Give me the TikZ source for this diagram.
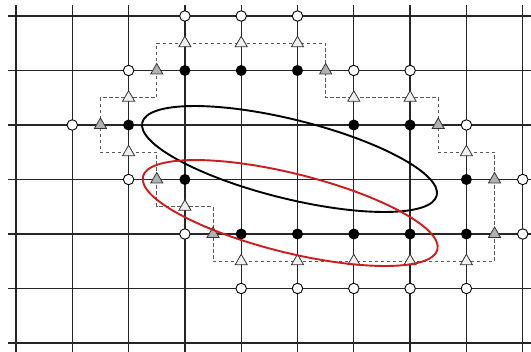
\documentclass[tikz,border=0pt]{standalone}
\usetikzlibrary{shapes.geometric}
\definecolor{ellred}{RGB}{205,28,28}
\begin{document}
\begin{tikzpicture}[x=56.3pt,y=-54.5pt,
  gridline/.style={black!85,line width=1.3pt},
  opendot/.style={circle,draw=black,line width=0.9pt,fill=white,minimum size=10.5pt,inner sep=0pt},
  fulldot/.style={circle,fill=black,minimum size=11pt,inner sep=0pt},
  tri/.style={regular polygon,regular polygon sides=3,draw=black!80,line width=0.8pt,minimum size=14pt,inner sep=0pt},
  vtri/.style={tri,fill=gray!12},
  htri/.style={tri,fill=gray!60},
  boundary/.style={black!65,dash pattern=on 3.5pt off 2.5pt,line width=0.9pt},
  contour/.style={line width=1.9pt}]
\path[use as bounding box] (-0.2842,-0.2936) rectangle (9.1474,6.1651);
\begin{scope}
  \clip (-0.2842,-0.2936) rectangle (9.1474,6.1651);
  \foreach \i in {0,...,9} \draw[gridline] (\i,-0.2) -- (\i,6.3);
  \foreach \j in {0,...,6} \draw[gridline] (-0.142,\j) -- (9.3,\j);
\end{scope}
% dual boundary (dashed)
\draw[boundary] (2.5,0.5) -- (5.5,0.5) -- (5.5,1.5) -- (7.5,1.5) -- (7.5,2.5) -- (8.5,2.5)
  -- (8.5,4.5) -- (3.5,4.5) -- (3.5,3.5) -- (2.5,3.5) -- (2.5,2.5) -- (1.5,2.5)
  -- (1.5,1.5) -- (2.5,1.5) -- cycle;
% triangles
\foreach \p [count=\k] in {{3,0.5},{4,0.5},{5,0.5},{2,1.5},{6,1.5},{7,1.5},{2,2.5},{8,2.5},{3,3.5},{4,4.5},{5,4.5},{6,4.5},{7,4.5},{8,4.5}}
  \node[vtri] (v\k) at (\p) {};
\foreach \p [count=\k] in {{2.5,1},{5.5,1},{1.5,2},{7.5,2},{2.5,3},{8.5,3},{3.5,4},{8.5,4}}
  \node[htri] (h\k) at (\p) {};
% filled dots
\foreach \p [count=\k] in {{3,1},{4,1},{5,1},{2,2},{6,2},{7,2},{3,3},{8,3},{4,4},{5,4},{6,4},{7,4},{8,4}}
  \node[fulldot] (f\k) at (\p) {};
% open dots
\foreach \p [count=\k] in {{3,0},{4,0},{5,0},{2,1},{6,1},{7,1},{1,2},{8,2},{2,3},{9,3},{3,4},{9,4},{4,5},{5,5},{6,5},{7,5},{8,5}}
  \node[opendot] (o\k) at (\p) {};
% ellipses
\draw[contour,black,rotate around={-13.95:(4.858,2.624)}] (4.858,2.624) ellipse [x radius=151.7pt, y radius=39.5pt];
\draw[contour,ellred,rotate around={-13.95:(4.870,3.615)}] (4.870,3.615) ellipse [x radius=151.7pt, y radius=39.5pt];
\end{tikzpicture}
\end{document}
